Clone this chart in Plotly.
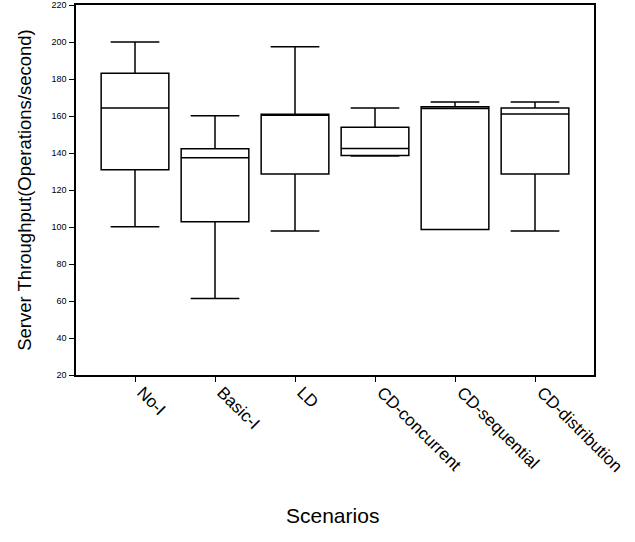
import plotly.graph_objects as go

categories = ["No-I", "Basic-I", "LD", "CD-concurrent", "CD-sequential", "CD-distribution"]
lower_whisker = [100.2, 61.4, 97.8, 138.4, 98.6, 97.8]
q1_values = [131.0, 102.9, 128.6, 138.6, 98.7, 128.6]
median_values = [164.3, 137.5, 160.4, 142.5, 164.0, 161.1]
q3_values = [183.1, 142.3, 160.9, 153.9, 165.0, 164.3]
upper_whisker = [200.0, 160.2, 197.5, 164.3, 167.6, 167.6]
y_ticks = list(range(20, 221, 20))

fig = go.Figure()
fig.add_trace(go.Box(
    x=categories,
    q1=q1_values,
    median=median_values,
    q3=q3_values,
    lowerfence=lower_whisker,
    upperfence=upper_whisker,
    fillcolor="white",
    line=dict(color="black", width=1.5),
    width=0.846,
    whiskerwidth=0.72,
    boxpoints=False,
    showlegend=False,
    hoverinfo="skip",
))

fig.update_layout(
    width=635, height=542,
    margin=dict(l=76, r=41, t=5, b=167),
    paper_bgcolor="white", plot_bgcolor="white",
    font=dict(family="Liberation Sans, Arial, sans-serif", color="black"),
    xaxis=dict(
        range=[-0.7375, 5.7375],
        type="category",
        automargin=False,
        tickangle=45,
        ticks="outside", ticklen=5, tickwidth=1, tickcolor="black",
        tickfont=dict(size=17),
        ticklabelshift=7,
        ticklabelstandoff=-6,
        showline=True, linecolor="black", linewidth=1.5, mirror=True,
        showgrid=False, zeroline=False,
    ),
    yaxis=dict(
        range=[20, 220],
        tickvals=y_ticks,
        automargin=False,
        ticks="outside", ticklen=5, tickwidth=1, tickcolor="black",
        tickfont=dict(size=9),
        ticklabelstandoff=1,
        showline=True, linecolor="black", linewidth=1.5, mirror=True,
        showgrid=False, zeroline=False,
        title=dict(text="Server Throughput(Operations/second)", font=dict(size=18.5), standoff=15),
    ),
    annotations=[dict(
        text="Scenarios", xref="paper", yref="paper",
        x=0.496, y=-(515 - 375) / (542 - 5 - 167),
        xanchor="center", yanchor="middle", showarrow=False,
        font=dict(size=21),
    )],
)

fig.write_html(
    "out.html",
    config={"displayModeBar": False},
    post_script="document.body.style.margin='0';document.body.style.padding='0';",
)
